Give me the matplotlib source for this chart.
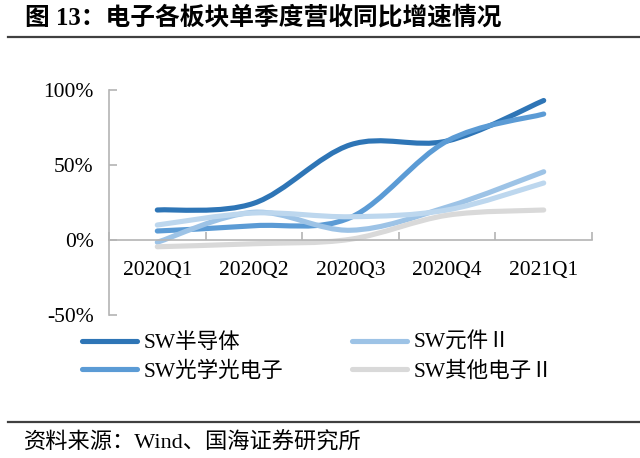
import numpy as np
import matplotlib
matplotlib.use('Agg')
import matplotlib.pyplot as plt
from matplotlib.path import Path
from matplotlib.patches import PathPatch
from matplotlib.lines import Line2D

plt.rcParams['font.family'] = ['Liberation Serif', 'Noto Sans CJK SC', 'DejaVu Sans']

# data (YoY revenue growth, %)
quarters = ['2020Q1', '2020Q2', '2020Q3', '2020Q4', '2021Q1']
semi = [20, 24.5, 63.5, 66, 93]        # SW半导体
optic = [6, 9.5, 15, 66, 84]           # SW光学光电子
component = [-1.5, 18.5, 6.5, 22, 45.5]  # SW元件II
unnamed = [10, 18, 15.5, 20, 38]       # fifth line, not in legend
other = [-4.5, -2.5, 0.5, 16.5, 20]    # SW其他电子II

names = ['SW半导体', 'SW光学光电子', 'SW元件Ⅱ', 'SW其他电子Ⅱ']
colors = ['#2e75b6', '#5b9bd5', '#9dc3e6', '#d9d9d9']
extra_color = '#bdd7ee'
axis_gray = '#b4b4b4'


def smooth_path(xs, ys):
    # excel-like smoothed line as cubic bezier segments
    pts = np.column_stack([xs, ys]).astype(float)
    n = len(pts)
    verts = [pts[0]]
    codes = [Path.MOVETO]
    for i in range(n - 1):
        p0 = pts[max(i - 1, 0)]
        p1 = pts[i]
        p2 = pts[i + 1]
        p3 = pts[min(i + 2, n - 1)]
        c1 = p1 + (p2 - p0) / 6.0
        c2 = p2 - (p3 - p1) / 6.0
        verts += [c1, c2, p2]
        codes += [Path.CURVE4] * 3
    return Path(verts, codes)


fig = plt.figure(figsize=(6.4, 4.58), dpi=100)
ax = fig.add_axes([109 / 640, 1 - 315 / 458, 483 / 640, 225 / 458])

x = np.arange(len(quarters))
lw = 3.7
series = [(semi, colors[0]), (optic, colors[1]), (component, colors[2]),
          (unnamed, extra_color), (other, colors[3])]
for vals, c in series:
    patch = PathPatch(smooth_path(x, vals), fill=False, edgecolor=c,
                      linewidth=lw, capstyle='round', joinstyle='round')
    ax.add_patch(patch)

ax.set_xlim(-0.5, len(quarters) - 0.5)
ax.set_ylim(-50, 100)

for s in ['top', 'right']:
    ax.spines[s].set_visible(False)
ax.spines['bottom'].set_position(('data', 0))
ax.spines['bottom'].set_color(axis_gray)
ax.spines['left'].set_color(axis_gray)
ax.spines['bottom'].set_linewidth(1.2)
ax.spines['left'].set_linewidth(1.2)

ax.set_yticks([-50, 0, 50, 100])
ax.set_yticklabels(['-50%', '0%', '50%', '100%'])
ax.tick_params(axis='y', direction='in', length=6, width=1.2, color=axis_gray,
               labelsize=15.5, pad=11)

ax.set_xticks(np.arange(-0.5, len(quarters)), minor=False)
ax.set_xticklabels([])
ax.set_xticks(x, minor=True)
ax.set_xticklabels(quarters, minor=True)
ax.tick_params(axis='x', which='major', direction='in', length=6, width=1.2,
               color=axis_gray)
ax.tick_params(axis='x', which='minor', length=0, labelsize=15.5, pad=15)

handles = [Line2D([], [], color=c, linewidth=lw, solid_capstyle='round')
           for c in colors]
fig.legend(handles, names, loc='upper left', ncol=2, frameon=False,
           bbox_to_anchor=(82 / 640, 1 - 333 / 458), borderaxespad=0,
           borderpad=0, fontsize=15.5, handlelength=2.55, handletextpad=0.3,
           labelspacing=0.38, columnspacing=3.2)

fig.text(25 / 640, 1 - 18 / 458, '图 13：电子各板块单季度营收同比增速情况',
         fontsize=17.8, fontweight='bold', va='center', ha='left')
fig.add_artist(Line2D([8 / 640, 1], [1 - 37 / 458] * 2, color='#404040',
                      linewidth=1.6))
fig.add_artist(Line2D([8 / 640, 1], [1 - 422 / 458] * 2, color='#404040',
                      linewidth=1.6))
fig.text(24 / 640, 1 - 443 / 458, '资料来源：Wind、国海证券研究所',
         fontsize=16, va='center', ha='left')

fig.savefig('out.png', dpi=100)
